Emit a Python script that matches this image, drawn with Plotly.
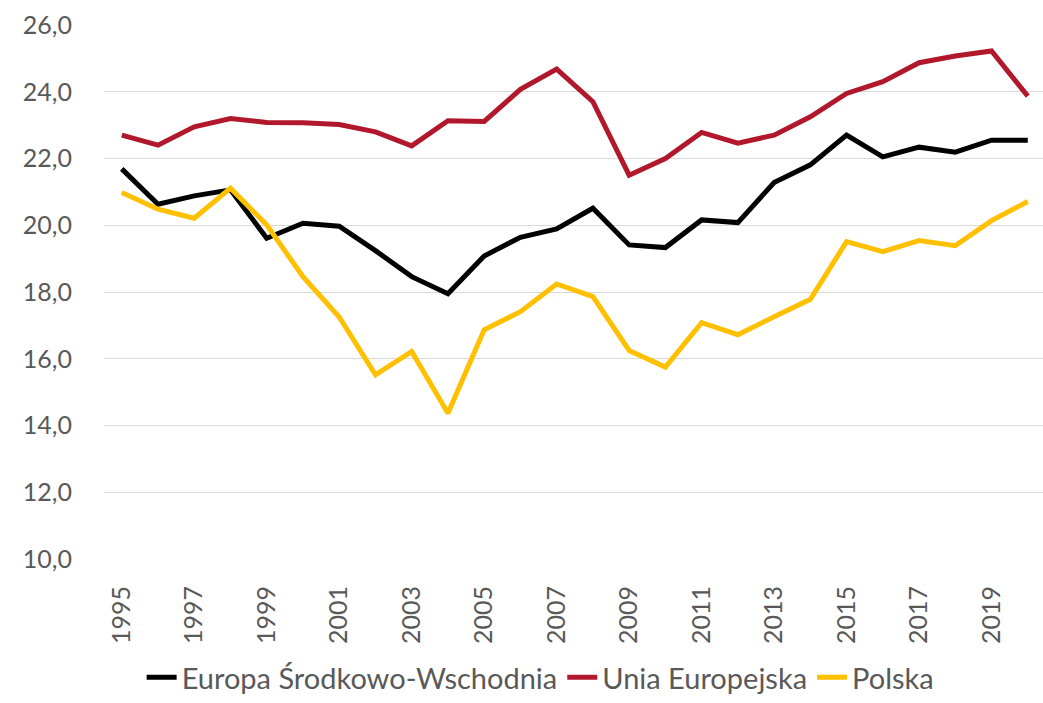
import plotly.graph_objects as go

years = list(range(1995, 2021))

europa_sw = [21.69, 20.63, 20.88, 21.06, 19.61, 20.06, 19.97, 19.24, 18.46, 17.95,
             19.08, 19.64, 19.89, 20.51, 19.41, 19.33, 20.16, 20.08, 21.28, 21.81,
             22.70, 22.05, 22.34, 22.19, 22.55, 22.55]
unia_eu = [22.70, 22.40, 22.95, 23.20, 23.08, 23.07, 23.02, 22.80, 22.38, 23.13,
           23.11, 24.07, 24.68, 23.70, 21.50, 22.00, 22.78, 22.46, 22.70, 23.25,
           23.95, 24.30, 24.87, 25.07, 25.22, 23.87]
polska = [20.98, 20.48, 20.21, 21.11, 20.01, 18.46, 17.25, 15.52, 16.22, 14.37,
          16.87, 17.41, 18.24, 17.86, 16.25, 15.75, 17.08, 16.72, 17.26, 17.78,
          19.51, 19.21, 19.54, 19.39, 20.14, 20.71]

y_ticks = [10, 12, 14, 16, 18, 20, 22, 24, 26]
y_tick_labels = ["10,0", "12,0", "14,0", "16,0", "18,0", "20,0", "22,0", "24,0", "26,0"]
x_ticks = list(range(1995, 2020, 2))

series = [
    ("Europa Środkowo-Wschodnia", europa_sw, "#000000"),
    ("Unia Europejska", unia_eu, "#B2182B"),
    ("Polska", polska, "#FFC000"),
]

fig = go.Figure()
for name, vals, color in series:
    fig.add_trace(go.Scatter(
        x=years, y=vals, name=name, mode="lines",
        line=dict(color=color, width=5, shape="linear"),
    ))

font_family = "Lato, Carlito, 'Open Sans', sans-serif"
grey = "#595959"

fig.update_layout(
    width=1043, height=703,
    margin=dict(l=104, r=0, t=25, b=144, autoexpand=False),
    paper_bgcolor="white", plot_bgcolor="white",
    font=dict(family=font_family, size=25, color=grey),
    showlegend=True,
    legend=dict(
        orientation="h", x=0.465, xanchor="center",
        yref="container", y=0.0, yanchor="bottom",
        font=dict(family=font_family, size=29, color=grey),
        itemwidth=30, tracegroupgap=0,
    ),
    xaxis=dict(
        range=[1994.51, 2020.42],
        tickmode="array", tickvals=x_ticks,
        ticktext=[str(v) for v in x_ticks],
        tickangle=-90, showgrid=False, zeroline=False, showline=False,
        ticks="", ticklabelstandoff=21,
        tickfont=dict(family=font_family, size=25, color=grey),
    ),
    yaxis=dict(
        range=[10, 26],
        tickmode="array", tickvals=y_ticks, ticktext=y_tick_labels,
        showgrid=True, gridcolor="#D9D9D9", gridwidth=1.3,
        zeroline=False, showline=False, ticks="", ticklabelstandoff=31,
        tickfont=dict(family=font_family, size=25, color=grey),
    ),
)

fig.write_html("out.html")
